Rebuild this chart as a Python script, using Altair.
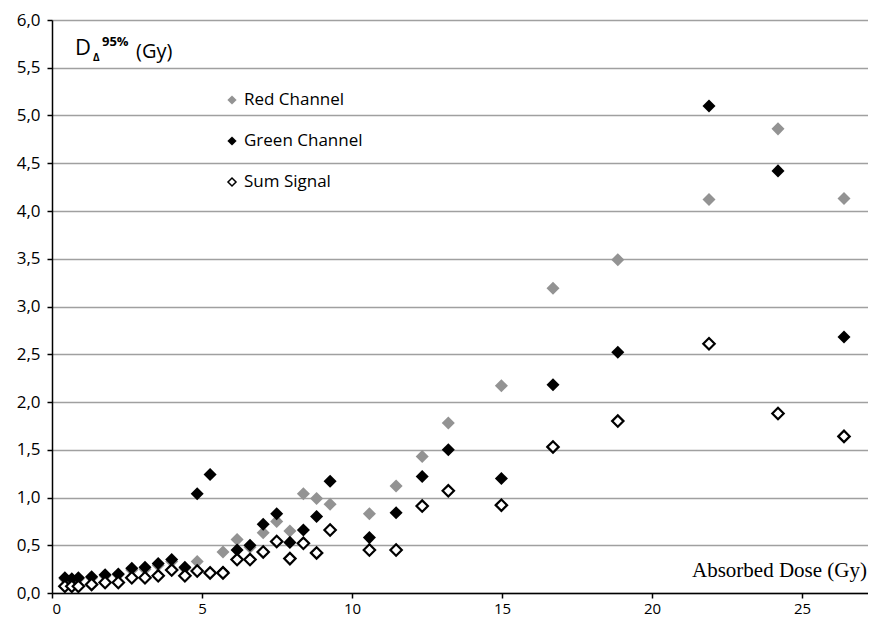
import altair as alt
import pandas as pd

dose = [0.43, 0.66, 0.88, 1.32, 1.77, 2.21, 2.66, 3.10, 3.54, 3.99, 4.43, 4.84, 5.27, 5.70,
        6.17, 6.60, 7.04, 7.49, 7.93, 8.38, 8.82, 9.27, 10.58, 11.47, 12.34, 13.21, 14.98,
        16.70, 18.86, 21.90, 24.20, 26.40]
red = [0.15, 0.14, 0.15, 0.16, 0.18, 0.19, 0.24, 0.25, 0.29, 0.33, 0.26, 0.33, 0.22, 0.43,
       0.56, 0.48, 0.63, 0.75, 0.65, 1.04, 0.99, 0.93, 0.83, 1.12, 1.43, 1.78, 2.17,
       3.19, 3.49, 4.12, 4.86, 4.13]
green = [0.16, 0.15, 0.16, 0.17, 0.19, 0.20, 0.26, 0.27, 0.31, 0.35, 0.27, 1.04, 1.24, 0.22,
         0.45, 0.50, 0.72, 0.83, 0.53, 0.66, 0.80, 1.17, 0.58, 0.84, 1.22, 1.50, 1.20,
         2.18, 2.52, 5.10, 4.42, 2.68]
sum_signal = [0.07, 0.07, 0.07, 0.09, 0.11, 0.11, 0.16, 0.16, 0.18, 0.24, 0.18, 0.23, 0.21, 0.21,
              0.35, 0.35, 0.43, 0.54, 0.36, 0.52, 0.42, 0.66, 0.45, 0.45, 0.91, 1.07, 0.92,
              1.53, 1.80, 2.61, 1.88, 1.64]

series_names = ["Red Channel", "Green Channel", "Sum Signal"]
x_ticks = [0, 5, 10, 15, 20, 25]
y_ticks = [0, 0.5, 1, 1.5, 2, 2.5, 3, 3.5, 4, 4.5, 5, 5.5, 6]

df_red = pd.DataFrame({"dose": dose, "value": red})
df_green = pd.DataFrame({"dose": dose, "value": green})
df_sum = pd.DataFrame({"dose": dose, "value": sum_signal})

W, H = 816, 573
FONT = "Open Sans"

xs = alt.X("dose:Q", scale=alt.Scale(domain=[0, W / 30.0], nice=False),
           axis=alt.Axis(values=x_ticks, grid=False, title=None, domainColor="black",
                         domainWidth=1.5, tickColor="black", tickSize=5, tickWidth=1.5,
                         labelFont=FONT, labelFontSize=15, labelColor="black", labelPadding=3))
ys = alt.Y("value:Q", scale=alt.Scale(domain=[0, 6], nice=False),
           axis=alt.Axis(values=y_ticks, grid=True, gridColor="#a0a0a0", gridWidth=1.5,
                         title=None, domainColor="black", domainWidth=1.5, tickColor="black",
                         tickSize=5, tickWidth=1.5, labelFont=FONT, labelFontSize=17,
                         labelColor="black", labelPadding=7,
                         labelExpr="replace(format(datum.value, '.1f'), '.', ',')"))

pt_red = alt.Chart(df_red).mark_point(shape="diamond", filled=True, size=170,
                                      color="#939393", opacity=1).encode(x=xs, y=ys)
pt_green = alt.Chart(df_green).mark_point(shape="diamond", filled=True, size=170,
                                          color="black", opacity=1).encode(x=xs, y=ys)
pt_sum = alt.Chart(df_sum).mark_point(shape="diamond", filled=False, size=130, fill="white",
                                      fillOpacity=1, stroke="black", strokeWidth=2.2,
                                      opacity=1).encode(x=xs, y=ys)

# legend
leg = pd.DataFrame({"name": series_names, "ypix": [80, 121, 162]})
leg_red = alt.Chart(leg[leg.name == "Red Channel"]).mark_point(
    shape="diamond", filled=True, size=85, color="#939393", opacity=1).encode(
    x=alt.value(180), y=alt.Y("ypix:Q", scale=None))
leg_green = alt.Chart(leg[leg.name == "Green Channel"]).mark_point(
    shape="diamond", filled=True, size=85, color="black", opacity=1).encode(
    x=alt.value(180), y=alt.Y("ypix:Q", scale=None))
leg_sum = alt.Chart(leg[leg.name == "Sum Signal"]).mark_point(
    shape="diamond", filled=False, size=65, fill="white", fillOpacity=1, stroke="black",
    strokeWidth=1.5, opacity=1).encode(x=alt.value(180), y=alt.Y("ypix:Q", scale=None))
leg_text = alt.Chart(leg).mark_text(align="left", baseline="middle", font=FONT,
                                    fontSize=17, color="black").encode(
    x=alt.value(192), y=alt.Y("ypix:Q", scale=None), text="name:N")

# y title  D_Δ^95% (Gy)
t_D = alt.Chart(pd.DataFrame({"t": ["D"]})).mark_text(
    align="left", baseline="alphabetic", font=FONT, fontSize=22, color="black").encode(
    x=alt.value(23), y=alt.value(35), text="t:N")
t_sub = alt.Chart(pd.DataFrame({"t": ["Δ"]})).mark_text(
    align="left", baseline="alphabetic", font=FONT, fontSize=10, fontWeight="bold",
    color="black").encode(x=alt.value(41), y=alt.value(41), text="t:N")
t_sup = alt.Chart(pd.DataFrame({"t": ["95%"]})).mark_text(
    align="left", baseline="alphabetic", font=FONT, fontSize=13, fontWeight="bold",
    color="black").encode(x=alt.value(50), y=alt.value(26), text="t:N")
t_gy = alt.Chart(pd.DataFrame({"t": ["(Gy)"]})).mark_text(
    align="left", baseline="alphabetic", font=FONT, fontSize=20, color="black").encode(
    x=alt.value(84), y=alt.value(38), text="t:N")

x_title = alt.Chart(pd.DataFrame({"t": ["Absorbed Dose (Gy)"]})).mark_text(
    align="right", baseline="alphabetic", font="Liberation Serif", fontSize=21,
    color="black").encode(x=alt.value(W - 1), y=alt.value(H - 16), text="t:N")

chart = alt.layer(
    pt_red, pt_green, pt_sum, leg_red, leg_green, leg_sum, leg_text,
    t_D, t_sub, t_sup, t_gy, x_title
).properties(
    width=W, height=H,
    autosize=alt.AutoSizeParams(type="none"),
    padding={"left": 44, "top": 12, "right": 0, "bottom": 27},
).configure_view(stroke=None).configure(background="white")

chart.save("out.html", embed_options={"renderer": "svg", "actions": False})
